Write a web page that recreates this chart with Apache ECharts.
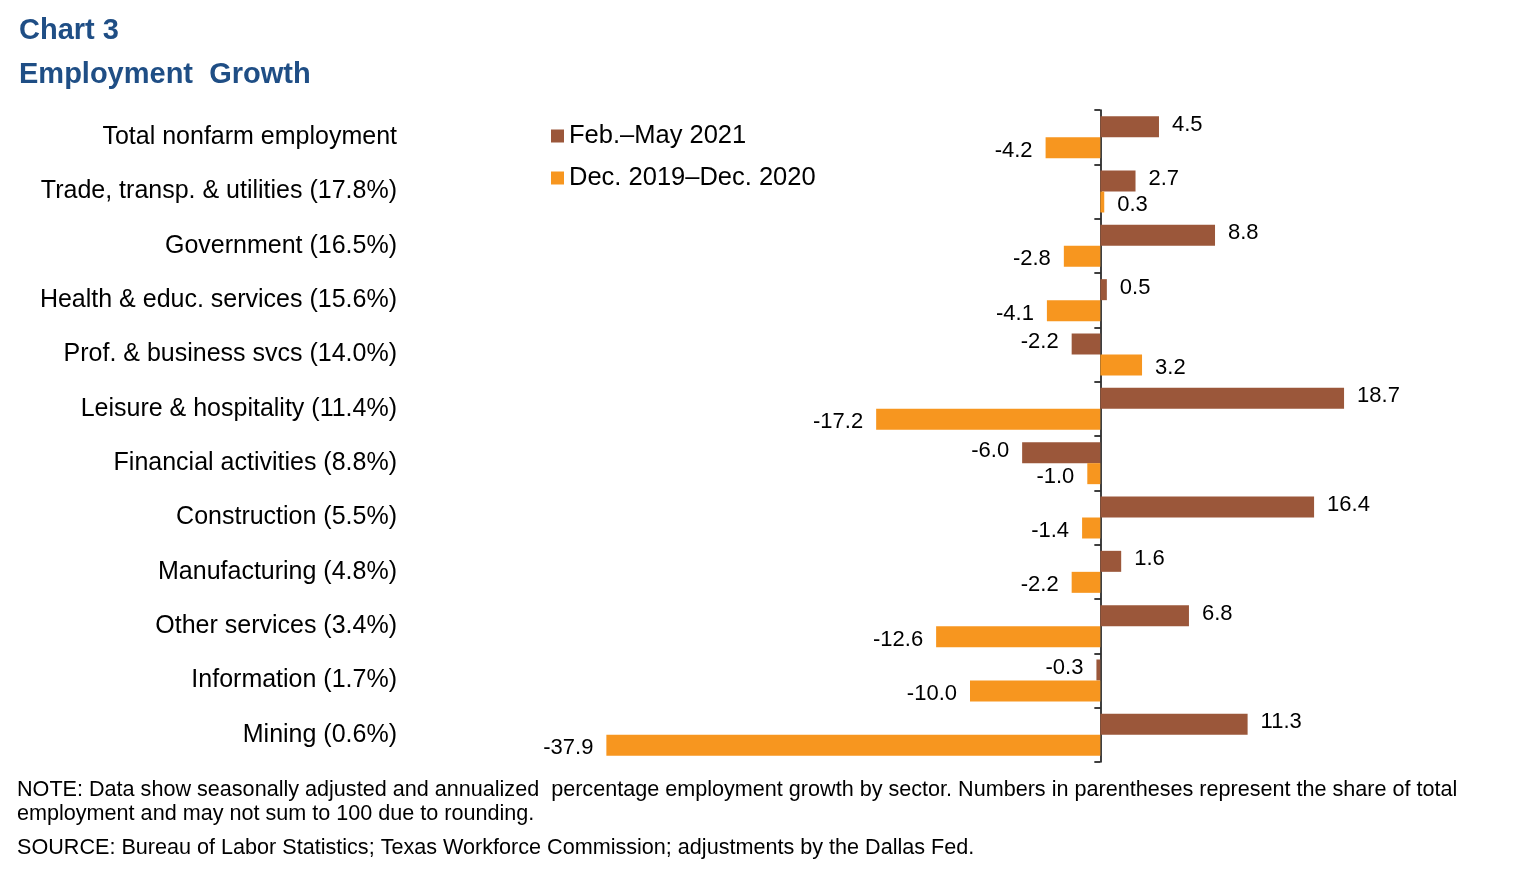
<!DOCTYPE html>
<html>
<head>
<meta charset="utf-8">
<script src="https://cdn.jsdelivr.net/npm/echarts@6/dist/echarts.min.js"></script>
<style>html,body{margin:0;padding:0;background:#fff;}#c{width:1536px;height:875px;}</style>
</head>
<body>
<div id="c"></div>
<script>
var categories = ["Total nonfarm employment","Trade, transp. & utilities (17.8%)","Government (16.5%)","Health & educ. services (15.6%)","Prof. & business svcs (14.0%)","Leisure & hospitality (11.4%)","Financial activities (8.8%)","Construction (5.5%)","Manufacturing (4.8%)","Other services (3.4%)","Information (1.7%)","Mining (0.6%)"];
var febMay2021 = [4.5, 2.7, 8.8, 0.5, -2.2, 18.7, -6.0, 16.4, 1.6, 6.8, -0.3, 11.3];
var dec2019Dec2020 = [-4.2, 0.3, -2.8, -4.1, 3.2, -17.2, -1.0, -1.4, -2.2, -12.6, -10.0, -37.9];
var seriesNames = ["Feb.\u2013May 2021", "Dec. 2019\u2013Dec. 2020"];

function toData(arr){
  return arr.map(function(v){
    return {value: v, label: {position: v < 0 ? 'left' : 'right'}};
  });
}
var FONT = '"Liberation Sans", Arial, sans-serif';
function labelCfg(dy){
  return {show: true, distance: 13, fontSize: 22, color: '#000', fontFamily: FONT, offset: [0, dy],
    formatter: function(p){ return p.value.toFixed(1); }};
}

var chart = echarts.init(document.getElementById('c'));
chart.setOption({
  animation: false,
  title: [
    {text: 'Chart 3', left: 19, top: 16, padding: 0, textStyle: {fontSize: 29, fontWeight: 'bold', color: '#1F4E85', fontFamily: FONT}},
    {text: 'Employment  Growth', left: 19, top: 60, padding: 0, textStyle: {fontSize: 29, fontWeight: 'bold', color: '#1F4E85', fontFamily: FONT}},
    {text: 'NOTE: Data show seasonally adjusted and annualized  percentage employment growth by sector. Numbers in parentheses represent the share of total\nemployment and may not sum to 100 due to rounding.', left: 17, top: 778, padding: 0,
      textStyle: {fontSize: 21.6, fontWeight: 'normal', color: '#000', fontFamily: FONT, lineHeight: 24}},
    {text: 'SOURCE: Bureau of Labor Statistics; Texas Workforce Commission; adjustments by the Dallas Fed.', left: 17, top: 836, padding: 0,
      textStyle: {fontSize: 21.6, fontWeight: 'normal', color: '#000', fontFamily: FONT, lineHeight: 24}}
  ],
  legend: {
    orient: 'vertical', left: 546, top: 118, itemWidth: 13, itemHeight: 13, itemGap: 16,
    icon: 'rect',
    textStyle: {fontSize: 25.5, color: '#000', fontFamily: FONT},
    data: seriesNames
  },
  grid: {left: 579, right: 175, top: 110, bottom: 113, outerBoundsMode: 'none', containLabel: false},
  xAxis: {
    type: 'value', min: -40, max: 20, show: false
  },
  yAxis: [
    {
      type: 'category', data: categories, inverse: true,
      axisLine: {onZero: true, lineStyle: {color: '#000', width: 1.5}},
      axisTick: {show: true, length: 6, lineStyle: {color: '#000', width: 1.5}},
      axisLabel: {show: false},
      splitLine: {show: false}
    },
    {
      type: 'category', data: categories, inverse: true, position: 'left',
      axisLine: {show: false, onZero: false},
      axisTick: {show: false},
      axisLabel: {show: true, margin: 182, fontSize: 25, color: '#000', fontFamily: FONT, interval: 0, hideOverlap: false},
      splitLine: {show: false}
    }
  ],
  series: [
    {name: seriesNames[0], type: 'bar', data: toData(febMay2021), barWidth: 21, barGap: '0%',
      itemStyle: {color: '#9B573A'}, label: labelCfg(-2)},
    {name: seriesNames[1], type: 'bar', data: toData(dec2019Dec2020), barWidth: 21, barGap: '0%',
      itemStyle: {color: '#F7961F'}, label: labelCfg(3)}
  ]
});
</script>
</body>
</html>
